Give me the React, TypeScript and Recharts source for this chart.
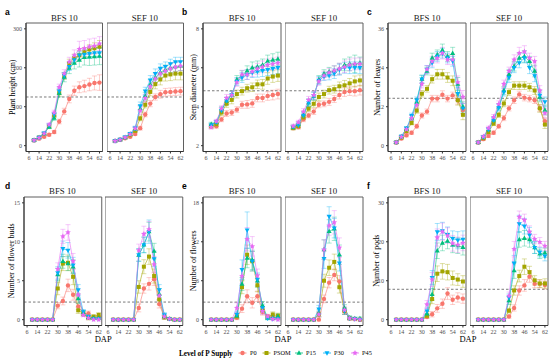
import React from "react";
import { LineChart, Line, XAxis, YAxis, ErrorBar, ReferenceLine, ReferenceArea } from "recharts";

const serif = "'Liberation Serif', 'Times New Roman', serif";
const sans = "'Liberation Sans', Arial, sans-serif";

const dap = [10, 14, 18, 22, 26, 30, 34, 38, 42, 46, 50, 54, 58, 62];
const xTicks = [6, 14, 22, 30, 38, 46, 54, 62];
const levels = ["P0", "PSOM", "P15", "P30", "P45"];
const colors = ["#F8766D", "#A3A500", "#00BF7D", "#00B0F6", "#E76BF3"];
const facets = ["BFS 10", "SEF 10"];

// a: plant height (cm)
const heightBFS = [
  [14, 18, 23, 28, 35, 62, 88, 120, 141, 150, 153, 157, 161, 162],
  [14, 21, 30, 50, 78, 135, 178, 212, 225, 232, 240, 247, 250, 254],
  [14, 21, 31, 48, 71, 135, 176, 199, 212, 220, 227, 228, 229, 230],
  [14, 21, 32, 52, 80, 140, 180, 203, 220, 232, 234, 236, 238, 238],
  [14, 20, 31, 54, 85, 150, 185, 215, 232, 248, 250, 254, 256, 262],
];
const heightBFSErr = [
  [2, 2, 3, 3, 4, 6, 8, 10, 12, 14, 15, 16, 18, 20],
  [2, 2, 3, 4, 5, 8, 8, 10, 10, 12, 12, 12, 14, 16],
  [2, 3, 3, 4, 6, 10, 12, 14, 15, 18, 20, 22, 22, 22],
  [2, 2, 3, 4, 5, 8, 8, 10, 10, 10, 10, 12, 12, 12],
  [2, 2, 3, 4, 6, 8, 10, 12, 14, 20, 20, 20, 20, 18],
];
const heightSEF = [
  [12, 15, 19, 23, 30, 45, 80, 108, 125, 132, 137, 138, 139, 140],
  [12, 15, 20, 27, 38, 70, 105, 138, 158, 170, 180, 183, 185, 185],
  [12, 15, 21, 30, 42, 95, 127, 157, 175, 188, 195, 200, 203, 205],
  [12, 16, 22, 31, 45, 102, 140, 168, 185, 198, 203, 210, 215, 215],
  [12, 15, 21, 29, 44, 90, 122, 152, 172, 185, 192, 198, 202, 205],
];
const heightSEFErr = [
  [2, 2, 2, 3, 3, 5, 6, 8, 8, 10, 10, 10, 10, 10],
  [2, 2, 2, 3, 4, 6, 8, 10, 12, 14, 14, 16, 16, 16],
  [2, 2, 3, 3, 5, 8, 10, 12, 12, 12, 12, 12, 12, 12],
  [2, 2, 3, 3, 5, 10, 10, 12, 12, 12, 12, 12, 12, 12],
  [2, 2, 2, 3, 5, 10, 10, 12, 12, 12, 12, 12, 12, 12],
];

// b: stem diameter (mm)
const stemBFS = [
  [3.0, 3.0, 3.35, 3.65, 3.7, 3.85, 4.1, 4.12, 4.17, 4.45, 4.45, 4.55, 4.6, 4.65],
  [3.0, 3.1, 3.7, 4.15, 4.35, 4.65, 4.8, 4.95, 5.0, 5.15, 5.15, 5.45, 5.55, 5.6],
  [3.1, 3.2, 3.85, 4.3, 4.6, 5.4, 5.6, 5.85, 6.0, 6.05, 6.15, 6.35, 6.4, 6.45],
  [3.05, 3.2, 3.8, 4.3, 4.6, 5.3, 5.5, 5.65, 5.75, 5.8, 5.85, 5.9, 5.95, 6.0],
  [2.95, 3.25, 3.9, 4.45, 4.6, 5.25, 5.65, 5.65, 5.8, 5.95, 6.05, 6.15, 6.2, 6.25],
];
const stemBFSErr = [
  [0.1, 0.1, 0.12, 0.15, 0.15, 0.15, 0.18, 0.2, 0.2, 0.2, 0.2, 0.22, 0.25, 0.25],
  [0.1, 0.1, 0.15, 0.18, 0.2, 0.2, 0.2, 0.2, 0.22, 0.22, 0.25, 0.3, 0.3, 0.3],
  [0.1, 0.1, 0.15, 0.18, 0.2, 0.2, 0.25, 0.25, 0.3, 0.3, 0.3, 0.3, 0.32, 0.35],
  [0.1, 0.1, 0.15, 0.18, 0.2, 0.2, 0.25, 0.25, 0.25, 0.28, 0.3, 0.3, 0.3, 0.3],
  [0.1, 0.1, 0.15, 0.18, 0.2, 0.2, 0.22, 0.25, 0.25, 0.28, 0.3, 0.3, 0.3, 0.3],
];
const stemSEF = [
  [2.9, 2.95, 3.35, 3.55, 3.75, 4.1, 4.15, 4.25, 4.4, 4.6, 4.75, 4.8, 4.8, 4.85],
  [2.9, 3.0, 3.45, 3.9, 4.15, 4.5, 4.65, 4.85, 4.9, 5.05, 5.1, 5.2, 5.3, 5.35],
  [2.95, 3.1, 3.6, 4.2, 4.55, 5.4, 5.7, 5.8, 5.85, 5.95, 6.15, 6.2, 6.2, 6.25],
  [2.95, 3.05, 3.55, 4.2, 4.55, 5.35, 5.55, 5.6, 5.7, 5.9, 6.0, 6.0, 6.0, 6.0],
  [3.0, 3.2, 3.75, 4.35, 4.6, 5.3, 5.6, 5.75, 5.85, 5.95, 6.05, 6.15, 6.2, 6.2],
];
const stemSEFErr = [
  [0.08, 0.1, 0.12, 0.12, 0.15, 0.15, 0.15, 0.18, 0.18, 0.2, 0.22, 0.22, 0.25, 0.25],
  [0.08, 0.1, 0.12, 0.15, 0.18, 0.2, 0.2, 0.2, 0.2, 0.22, 0.25, 0.25, 0.28, 0.28],
  [0.1, 0.1, 0.15, 0.2, 0.2, 0.2, 0.2, 0.22, 0.25, 0.28, 0.3, 0.35, 0.45, 0.3],
  [0.1, 0.1, 0.15, 0.18, 0.2, 0.2, 0.2, 0.22, 0.25, 0.28, 0.28, 0.3, 0.3, 0.3],
  [0.1, 0.1, 0.15, 0.18, 0.2, 0.2, 0.22, 0.22, 0.25, 0.28, 0.3, 0.3, 0.3, 0.3],
];

// c: number of leaves
const leavesBFS = [
  [1, 2.2, 3.2, 4.0, 6.0, 9.3, 10.5, 14.5, 14.5, 15.7, 14.5, 15.5, 14.0, 11.0],
  [1, 2.5, 4.5, 7.0, 10.8, 16.0, 17.5, 20.5, 22, 22, 21, 20.0, 14.0, 9.5],
  [1, 2.8, 5.2, 8.5, 13.5, 20.5, 23, 27, 28, 29.5, 27.5, 28.5, 19, 12],
  [1, 2.8, 5.3, 9.2, 14, 20.5, 23.5, 25.5, 27.5, 28.5, 27, 26, 16, 11.5],
  [1, 2.7, 5.0, 8.5, 12.5, 19, 23.5, 26, 27, 28.5, 26.5, 26.5, 19.5, 15],
];
const leavesBFSErr = [
  [0.3, 0.4, 0.5, 0.5, 0.6, 0.8, 0.8, 1.0, 1.0, 1.2, 1.0, 1.0, 1.2, 1.2],
  [0.3, 0.4, 0.5, 0.6, 0.8, 1.0, 1.0, 1.2, 1.5, 1.5, 1.5, 1.5, 1.5, 1.5],
  [0.3, 0.4, 0.6, 0.8, 1.0, 1.2, 1.2, 1.5, 1.5, 1.8, 1.5, 1.8, 2.0, 1.5],
  [0.3, 0.4, 0.6, 0.8, 1.0, 1.2, 1.2, 1.5, 1.5, 1.5, 1.5, 1.5, 2.0, 1.5],
  [0.3, 0.4, 0.6, 0.8, 1.0, 1.2, 1.2, 1.5, 1.5, 1.8, 1.5, 1.5, 2.0, 2.0],
];
const leavesSEF = [
  [1, 2, 3, 4, 6, 8.5, 11.5, 14, 15.8, 14.8, 14.5, 14, 11.5, 7.5],
  [1, 2.3, 4.2, 6.8, 9.5, 13, 16.5, 18.5, 18.5, 18.5, 18, 17, 11.5, 6.5],
  [1, 2.7, 5, 8, 12, 17, 22, 24.5, 27, 27.5, 26, 23, 15, 11],
  [1, 2.6, 5, 7.8, 11.7, 16.5, 21, 24, 25.5, 27, 24, 21.5, 15.5, 13.5],
  [1, 2.8, 5.4, 8.8, 12.8, 19, 23, 26.5, 28.5, 29, 27, 26, 17, 10],
];
const leavesSEFErr = [
  [0.3, 0.4, 0.5, 0.5, 0.6, 0.8, 0.8, 1.0, 1.0, 1.0, 1.0, 1.0, 1.0, 1.0],
  [0.3, 0.4, 0.5, 0.6, 0.8, 1.0, 1.0, 1.2, 1.2, 1.2, 1.2, 1.2, 1.2, 1.2],
  [0.3, 0.4, 0.6, 0.8, 1.0, 1.2, 1.5, 1.5, 1.5, 1.8, 1.5, 1.8, 1.5, 1.5],
  [0.3, 0.4, 0.6, 0.8, 1.0, 1.2, 1.5, 1.5, 1.5, 1.5, 1.8, 1.8, 1.5, 1.5],
  [0.3, 0.4, 0.6, 0.8, 1.0, 1.2, 1.2, 1.5, 1.8, 1.8, 1.5, 1.5, 1.5, 1.5],
];

// d: number of flower buds
const budsBFS = [
  [0, 0, 0, 0, 0, 1.8, 2.4, 4.4, 3.2, 1.7, 0.8, 0.8, 0.2, 0.3],
  [0, 0, 0, 0, 0, 4.0, 7.2, 7.3, 5.5, 1.2, 0.8, 0.2, 0.4, 0.6],
  [0, 0, 0, 0, 0, 5.8, 7.5, 7.2, 6.8, 2.7, 0.9, 0.3, 0.2, 0.2],
  [0, 0, 0, 0, 0, 6.0, 9.1, 8.9, 7.0, 3.8, 1.0, 0.4, 0.1, 0.1],
  [0, 0, 0, 0, 0, 6.5, 10.7, 11.2, 7.5, 3.2, 0.6, 0.2, 0, 0],
];
const budsBFSErr = [
  [0, 0, 0, 0, 0, 0.4, 0.5, 0.8, 0.7, 0.4, 0.3, 0.3, 0.1, 0.2],
  [0, 0, 0, 0, 0, 0.8, 0.9, 1.0, 1.0, 0.4, 0.3, 0.2, 0.2, 0.3],
  [0, 0, 0, 0, 0, 0.8, 0.9, 0.9, 0.9, 0.6, 0.3, 0.2, 0.1, 0.2],
  [0, 0, 0, 0, 0, 0.8, 1.0, 1.0, 1.0, 0.7, 0.3, 0.2, 0.1, 0.1],
  [0, 0, 0, 0, 0, 0.8, 0.9, 1.0, 1.0, 0.6, 0.2, 0.1, 0, 0],
];
const budsSEF = [
  [0, 0, 0, 0, 0, 1.5, 4.0, 4.6, 5.2, 2.0, 0.3, 0.1, 0, 0],
  [0, 0, 0, 0, 0, 4.2, 6.8, 8.1, 5.6, 2.6, 0.3, 0.1, 0, 0],
  [0, 0, 0, 0, 0, 8.3, 9.6, 11.3, 8.8, 3.3, 0.4, 0.1, 0, 0],
  [0, 0, 0, 0, 0, 8.3, 9.6, 11.3, 7.8, 3.8, 0.6, 0.1, 0, 0],
  [0, 0, 0, 0, 0, 8.9, 11.0, 11.6, 7.1, 3.1, 0.4, 0.1, 0, 0],
];
const budsSEFErr = [
  [0, 0, 0, 0, 0, 0.5, 0.6, 0.8, 0.8, 0.5, 0.2, 0.1, 0, 0],
  [0, 0, 0, 0, 0, 0.8, 0.9, 1.0, 0.9, 0.6, 0.2, 0.1, 0, 0],
  [0, 0, 0, 0, 0, 0.8, 1.0, 1.2, 1.0, 0.7, 0.3, 0.1, 0, 0],
  [0, 0, 0, 0, 0, 0.8, 1.0, 1.5, 1.0, 0.7, 0.3, 0.1, 0, 0],
  [0, 0, 0, 0, 0, 0.8, 1.0, 1.0, 1.0, 0.6, 0.3, 0.1, 0, 0],
];

// e: number of flowers
const flowersBFS = [
  [0, 0, 0, 0, 0, 0.3, 1.7, 3.6, 2.6, 3.6, 1.2, 0.5, 0.4, 0.2],
  [0, 0, 0, 0, 0, 0.5, 5.0, 10.0, 9.0, 5.3, 1.4, 0.4, 0.8, 0.6],
  [0, 0, 0, 0, 0, 0.6, 5.5, 9.5, 9.2, 6.0, 2.2, 0.3, 0.3, 0.5],
  [0, 0, 0, 0, 0, 0.8, 7.7, 13.8, 9.0, 6.2, 1.8, 0.2, 0.1, 0.1],
  [0, 0, 0, 0, 0, 1.8, 6.7, 12.4, 11.3, 6.8, 1.3, 0.5, 0.1, 0],
];
const flowersBFSErr = [
  [0, 0, 0, 0, 0, 0.3, 0.6, 1.0, 0.8, 0.8, 0.5, 0.3, 0.2, 0.2],
  [0, 0, 0, 0, 0, 0.4, 1.0, 1.5, 1.5, 1.0, 0.5, 0.3, 0.4, 0.4],
  [0, 0, 0, 0, 0, 0.4, 1.0, 1.5, 1.5, 1.0, 0.6, 0.3, 0.3, 0.4],
  [0, 0, 0, 0, 0, 0.5, 1.5, 2.8, 1.5, 1.0, 0.6, 0.2, 0.1, 0.1],
  [0, 0, 0, 0, 0, 0.8, 1.2, 1.8, 1.5, 1.0, 0.5, 0.3, 0.1, 0],
];
const flowersSEF = [
  [0, 0, 0, 0, 0, 0, 3.2, 5.7, 6.9, 5.9, 1.3, 0.2, 0.1, 0],
  [0, 0, 0, 0, 0, 0.8, 6.0, 8.0, 8.9, 5.0, 1.3, 0.2, 0.1, 0],
  [0, 0, 0, 0, 0, 1.0, 10.8, 13.6, 14.0, 10.0, 1.8, 0.3, 0.2, 0.2],
  [0, 0, 0, 0, 0, 1.6, 9.4, 15.9, 14.1, 8.7, 1.3, 0.2, 0.1, 0],
  [0, 0, 0, 0, 0, 0.8, 10.8, 14.5, 15.0, 11.1, 1.5, 0.2, 0.1, 0],
];
const flowersSEFErr = [
  [0, 0, 0, 0, 0, 0, 0.6, 0.8, 0.9, 0.9, 0.5, 0.2, 0.1, 0],
  [0, 0, 0, 0, 0, 0.4, 1.0, 1.2, 1.2, 0.9, 0.5, 0.2, 0.1, 0],
  [0, 0, 0, 0, 0, 0.5, 1.5, 1.8, 1.8, 1.5, 0.5, 0.3, 0.2, 0.2],
  [0, 0, 0, 0, 0, 0.6, 1.5, 1.5, 1.5, 1.2, 0.5, 0.2, 0.1, 0],
  [0, 0, 0, 0, 0, 0.4, 1.5, 1.5, 1.8, 1.5, 0.5, 0.2, 0.1, 0],
];

// f: number of pods
const podsBFS = [
  [0, 0, 0, 0, 0, 0, 0.7, 1.4, 2.9, 4.1, 6.7, 5.1, 5.7, 5.4],
  [0, 0, 0, 0, 0, 0, 1.0, 5.3, 11.8, 12.4, 12.2, 10.7, 10.3, 9.8],
  [0, 0, 0, 0, 0, 0, 1.5, 6.5, 17.7, 19.7, 20.2, 19.2, 19.0, 18.6],
  [0, 0, 0, 0, 0, 0, 2.2, 10.8, 22.5, 22.8, 21.8, 20.8, 20.4, 20.6],
  [0, 0, 0, 0, 0, 0, 3.9, 10.3, 21.1, 22.6, 21.6, 19.6, 19.2, 19.7],
];
const podsBFSErr = [
  [0, 0, 0, 0, 0, 0, 0.4, 0.7, 1.0, 1.2, 1.5, 1.2, 1.2, 1.2],
  [0, 0, 0, 0, 0, 0, 0.5, 1.2, 2.0, 2.0, 2.0, 1.8, 1.5, 1.5],
  [0, 0, 0, 0, 0, 0, 0.6, 1.5, 2.0, 2.0, 2.0, 2.0, 2.0, 2.0],
  [0, 0, 0, 0, 0, 0, 0.8, 1.8, 2.2, 2.2, 2.0, 2.0, 2.2, 2.2],
  [0, 0, 0, 0, 0, 0, 1.0, 1.8, 2.2, 2.2, 2.0, 2.0, 2.0, 2.0],
];
const podsSEF = [
  [0, 0, 0, 0, 0, 0, 0.8, 3.0, 7.5, 8.8, 11.1, 9.2, 9.2, 8.9],
  [0, 0, 0, 0, 0, 0, 2.3, 7.5, 11.2, 13.6, 12.2, 10.1, 9.3, 9.3],
  [0, 0, 0, 0, 0, 0, 4.9, 12.6, 20.6, 20.9, 20.6, 18.5, 16.9, 17.2],
  [0, 0, 0, 0, 0, 0, 5.6, 14.5, 24.6, 24.0, 21.7, 18.5, 17.3, 16.3],
  [0, 0, 0, 0, 0, 0, 6.1, 18.1, 26.4, 25.6, 22.6, 20.7, 19.9, 18.9],
];
const podsSEFErr = [
  [0, 0, 0, 0, 0, 0, 0.4, 0.8, 1.2, 1.5, 1.5, 1.0, 1.0, 1.0],
  [0, 0, 0, 0, 0, 0, 0.6, 1.2, 1.5, 2.0, 1.5, 1.2, 1.0, 1.2],
  [0, 0, 0, 0, 0, 0, 1.0, 2.0, 2.0, 2.0, 2.0, 1.5, 1.2, 1.2],
  [0, 0, 0, 0, 0, 0, 1.0, 2.0, 2.2, 2.0, 2.0, 1.5, 1.2, 1.2],
  [0, 0, 0, 0, 0, 0, 1.0, 2.0, 1.5, 1.5, 1.5, 1.2, 1.2, 1.2],
];

const panelTags = ["a", "b", "c", "d", "e", "f"];
const yTitles = [
  "Plant height (cm)",
  "Stem diameter (mm)",
  "Number of leaves",
  "Number of flower buds",
  "Number of flowers",
  "Number of pods",
];
const yTickSets = [
  [0, 100, 200, 300],
  [2, 4, 6, 8],
  [0, 12, 24, 36],
  [0, 5, 10, 15],
  [0, 6, 12, 18],
  [0, 10, 20, 30],
];
const yLimits = [
  [0, 300],
  [2, 8],
  [0, 36],
  [0, 15],
  [0, 18],
  [0, 30],
];
const hlineValues = [125, 4.82, 14.6, 2.26, 2.7, 7.8];

const bfsSets = [heightBFS, stemBFS, leavesBFS, budsBFS, flowersBFS, podsBFS];
const bfsErrSets = [heightBFSErr, stemBFSErr, leavesBFSErr, budsBFSErr, flowersBFSErr, podsBFSErr];
const sefSets = [heightSEF, stemSEF, leavesSEF, budsSEF, flowersSEF, podsSEF];
const sefErrSets = [heightSEFErr, stemSEFErr, leavesSEFErr, budsSEFErr, flowersSEFErr, podsSEFErr];

// layout of plot boxes (left of first facet, right of second facet)
const colBox = [
  [26, 183],
  [203, 363],
  [388, 548],
  [23.5, 183],
  [203, 363],
  [388, 548],
];
const rowTop = [23, 23, 23, 196.5, 196.5, 196.5];
const plotH = 128.5;
const gap = 4;
const xDomain = [3.6, 64.4];
const yAxisW = 22;
const xAxisH = 12;

function marker(k: number, cx: number, cy: number, key: string) {
  const c = colors[k];
  if (cx == null || cy == null) return <g key={key} />;
  if (k === 0) return <circle key={key} cx={cx} cy={cy} r={2.2} fill={c} />;
  if (k === 1) return <rect key={key} x={cx - 2} y={cy - 2} width={4} height={4} fill={c} />;
  if (k === 2)
    return <polygon key={key} points={`${cx},${cy - 2.7} ${cx + 2.5},${cy + 1.7} ${cx - 2.5},${cy + 1.7}`} fill={c} />;
  if (k === 3)
    return <polygon key={key} points={`${cx},${cy + 2.7} ${cx + 2.5},${cy - 1.7} ${cx - 2.5},${cy - 1.7}`} fill={c} />;
  const pts: string[] = [];
  for (let i = 0; i < 10; i++) {
    const r = i % 2 === 0 ? 3 : 1.4;
    const a = -Math.PI / 2 + (i * Math.PI) / 5;
    pts.push(`${cx + r * Math.cos(a)},${cy + r * Math.sin(a)}`);
  }
  return <polygon key={key} points={pts.join(" ")} fill={c} />;
}

function Facet({
  rows,
  errs,
  left,
  top,
  width,
  yDomain,
  yTicks,
  hline,
  showY,
}: any) {
  const data = dap.map((d, i) => {
    const o: any = { dap: d };
    levels.forEach((lv, k) => {
      o[lv] = rows[k][i];
      o[lv + "_e"] = errs[k][i];
    });
    return o;
  });
  const yw = showY ? yAxisW : 0;
  const tickStyle = { fontSize: 6, fill: "#4d4d4d", fontFamily: serif };
  return (
    <div style={{ position: "absolute", left: left - yw, top: top - 2 }}>
      <LineChart
        width={yw + width + 2}
        height={2 + plotH + xAxisH}
        data={data}
        margin={{ top: 2, right: 2, left: 0, bottom: 0 }}
      >
        <XAxis
          dataKey="dap"
          type="number"
          domain={xDomain}
          ticks={xTicks}
          interval={0}
          allowDataOverflow
          height={xAxisH}
          tick={tickStyle}
          tickSize={2}
          tickLine={{ stroke: "#333" }}
          axisLine={{ stroke: "#333" }}
        />
        <YAxis
          type="number"
          hide={!showY}
          domain={yDomain}
          ticks={yTicks}
          interval={0}
          allowDataOverflow
          width={yw}
          tick={tickStyle}
          tickSize={2}
          tickLine={{ stroke: "#333" }}
          axisLine={{ stroke: "#333" }}
        />
        <ReferenceArea
          x1={xDomain[0]}
          x2={xDomain[1]}
          y1={yDomain[0]}
          y2={yDomain[1]}
          fill="none"
          stroke="#5f5f5f"
          strokeWidth={1}
          ifOverflow="visible"
        />
        <ReferenceLine y={hline} stroke="#6b6b6b" strokeDasharray="2.5 2" strokeWidth={0.9} />
        {levels.map((lv, k) => (
          <Line
            key={lv}
            dataKey={lv}
            type="linear"
            stroke={colors[k]}
            strokeWidth={0.8}
            strokeOpacity={0.75}
            dot={(p: any) => marker(k, p.cx, p.cy, `${lv}-${p.index}`)}
            activeDot={false}
            isAnimationActive={false}
          >
            <ErrorBar
              dataKey={lv + "_e"}
              width={2.5}
              stroke={colors[k]}
              strokeOpacity={0.45}
              strokeWidth={0.8}
              direction="y"
            />
          </Line>
        ))}
      </LineChart>
    </div>
  );
}

const legendItems = [
  { x: 242.5, tx: 250 },
  { x: 266.5, tx: 273.5 },
  { x: 299, tx: 306 },
  { x: 327, tx: 334 },
  { x: 355, tx: 362 },
];

export default function App() {
  return (
    <div
      style={{
        position: "absolute",
        left: 0,
        top: 0,
        width: 550,
        height: 361,
        background: "#fff",
        overflow: "hidden",
      }}
    >
      {panelTags.map((tag, p) => {
        const [l, r] = colBox[p];
        const w = (r - l - gap) / 2;
        const [lo, hi] = yLimits[p];
        const pad = (hi - lo) * 0.05;
        const yDomain = [lo - pad, hi + pad];
        return (
          <React.Fragment key={tag}>
            <Facet
              rows={bfsSets[p]}
              errs={bfsErrSets[p]}
              left={l}
              top={rowTop[p]}
              width={w}
              yDomain={yDomain}
              yTicks={yTickSets[p]}
              hline={hlineValues[p]}
              showY
            />
            <Facet
              rows={sefSets[p]}
              errs={sefErrSets[p]}
              left={l + w + gap}
              top={rowTop[p]}
              width={w}
              yDomain={yDomain}
              yTicks={yTickSets[p]}
              hline={hlineValues[p]}
              showY={false}
            />
          </React.Fragment>
        );
      })}
      <svg
        width={550}
        height={361}
        style={{ position: "absolute", left: 0, top: 0, pointerEvents: "none" }}
      >
        {panelTags.map((tag, p) => {
          const [l, r] = colBox[p];
          const w = (r - l - gap) / 2;
          const top = rowTop[p];
          const colX = [5, 182, 367][p % 3];
          const titleX = [12, 193, 377, 11, 193, 376][p];
          const cy = top + plotH / 2;
          return (
            <g key={tag}>
              <text x={colX} y={top - 8} fontFamily={sans} fontWeight="bold" fontSize={8.5} fill="#000">
                {tag}
              </text>
              <text
                x={titleX}
                y={cy}
                transform={`rotate(-90 ${titleX} ${cy})`}
                textAnchor="middle"
                dominantBaseline="central"
                fontFamily={serif}
                fontSize={8}
                fill="#000"
              >
                {yTitles[p]}
              </text>
              {facets.map((f, i) => (
                <text
                  key={f}
                  x={l + i * (w + gap) + w / 2}
                  y={top - 2.5}
                  textAnchor="middle"
                  fontFamily={serif}
                  fontSize={8.8}
                  fill="#1a1a1a"
                >
                  {f}
                </text>
              ))}
              {p >= 3 && (
                <text x={(l + r) / 2} y={342} textAnchor="middle" fontFamily={serif} fontSize={8.5} fill="#000">
                  DAP
                </text>
              )}
            </g>
          );
        })}
        <text x={179} y={355.5} fontFamily={serif} fontWeight="bold" fontSize={7.2} fill="#000">
          Level of P Supply
        </text>
        {levels.map((lv, k) => (
          <g key={lv}>
            <line
              x1={legendItems[k].x - 4}
              x2={legendItems[k].x + 4}
              y1={353}
              y2={353}
              stroke={colors[k]}
              strokeWidth={0.8}
            />
            {marker(k, legendItems[k].x, 353, `leg-${lv}`)}
            <text x={legendItems[k].tx} y={355.3} fontFamily={serif} fontSize={6.3} fill="#000">
              {lv}
            </text>
          </g>
        ))}
      </svg>
    </div>
  );
}
